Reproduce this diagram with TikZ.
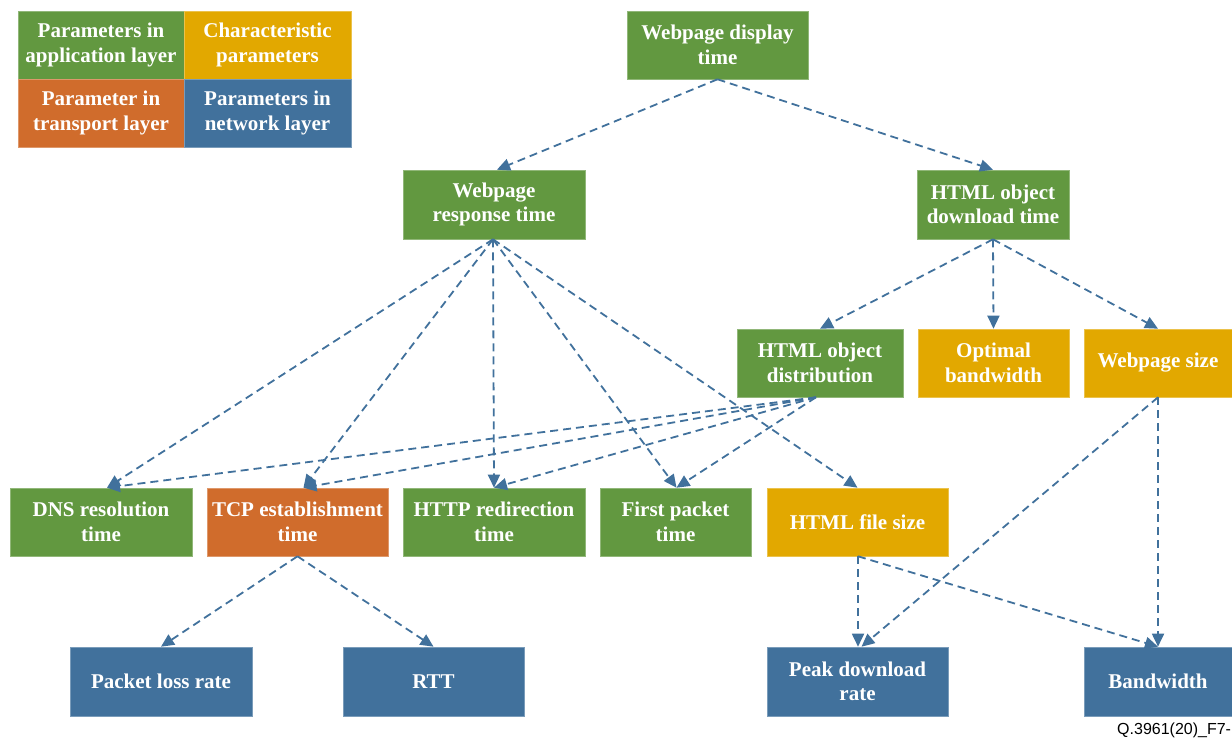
\documentclass[tikz,border=0pt]{standalone}
\usepackage{fontspec}
\setmainfont{Liberation Serif}
\newfontfamily\footfont{Liberation Sans}
\usetikzlibrary{arrows.meta}
\definecolor{appgreen}{RGB}{98,152,64}
\definecolor{chargold}{RGB}{226,168,0}
\definecolor{transorange}{RGB}{208,108,44}
\definecolor{netblue}{RGB}{65,113,156}
\tikzset{
  box/.style={fill=#1, draw=#1!70!white, line width=0.6pt, text=white, inner sep=0pt,
    align=center, font=\fontsize{21}{24.5}\selectfont\bfseries},
  link/.style={draw=netblue, line width=1.8pt, dash pattern=on 8pt off 5pt,
    -{Triangle[length=13pt,width=12pt]}},
}
\begin{document}
\begin{tikzpicture}[x=1pt,y=-1pt]
\useasboundingbox (0,0) rectangle (1232,738);
% legend
\node[box=appgreen, minimum width=166pt, minimum height=68pt] (l1) at (101,45) {Parameters in\\application layer};
\node[box=chargold, minimum width=167pt, minimum height=68pt] (l2) at (267.5,45) {Characteristic\\parameters};
\node[box=transorange, minimum width=166pt, minimum height=68pt] (l3) at (101,113) {Parameter in\\transport layer};
\node[box=netblue, minimum width=167pt, minimum height=68pt] (l4) at (267.5,113) {Parameters in\\network layer};
% nodes
\node[box=appgreen, minimum width=181pt, minimum height=68pt] (disp) at (717.5,45) {Webpage display\\time};
\node[box=appgreen, minimum width=182pt, minimum height=69pt] (resp) at (494,204.5) {Webpage\\response time};
\node[box=appgreen, minimum width=152pt, minimum height=69pt] (down) at (993,204.5) {HTML object\\download time};
\node[box=appgreen, minimum width=166pt, minimum height=68pt] (dist) at (820,363) {HTML object\\distribution};
\node[box=chargold, minimum width=151pt, minimum height=68pt] (opt) at (993.5,363) {Optimal\\bandwidth};
\node[box=chargold, minimum width=148pt, minimum height=68pt] (wsize) at (1158,363) {Webpage size};
\node[box=appgreen, minimum width=182pt, minimum height=68pt] (dns) at (101,522) {DNS resolution\\time};
\node[box=transorange, minimum width=181pt, minimum height=68pt] (tcp) at (297.5,522) {TCP establishment\\time};
\node[box=appgreen, minimum width=182pt, minimum height=68pt] (http) at (494,522) {HTTP redirection\\time};
\node[box=appgreen, minimum width=151pt, minimum height=68pt] (fpt) at (675.5,522) {First packet\\time};
\node[box=chargold, minimum width=181pt, minimum height=68pt] (hfs) at (857.5,522) {HTML file size};
\node[box=netblue, minimum width=182pt, minimum height=69pt] (plr) at (161,681.5) {Packet loss rate};
\node[box=netblue, minimum width=181pt, minimum height=69pt] (rtt) at (433.5,681.5) {RTT};
\node[box=netblue, minimum width=181pt, minimum height=69pt] (peak) at (857.5,681.5) {Peak download\\rate};
\node[box=netblue, minimum width=148pt, minimum height=69pt] (bw) at (1158,681.5) {Bandwidth};
% footer
\node[anchor=base west, inner sep=0pt, font=\footfont\fontsize{16}{18}\selectfont] (foot) at (1117,734) {Q.3961(20)\_F7-};
% links
\draw[link] (disp.south) -- ([xshift=3pt]resp.north);
\draw[link] (disp.south) -- (down.north);
\draw[link] ([xshift=-1pt]resp.south) -- ([xshift=6pt]dns.north);
\draw[link] ([xshift=-1pt]resp.south) -- ([xshift=6pt]tcp.north);
\draw[link] ([xshift=-1pt]resp.south) -- (http.north);
\draw[link] ([xshift=-1pt]resp.south) -- ([xshift=1pt]fpt.north);
\draw[link] ([xshift=-1pt]resp.south) -- (hfs.north);
\draw[link] (down.south) -- (dist.north);
\draw[link] (down.south) -- (opt.north);
\draw[link] (down.south) -- (wsize.north);
\draw[link] ([xshift=-4pt]dist.south) -- ([xshift=6pt]dns.north);
\draw[link] ([xshift=-4pt]dist.south) -- ([xshift=6pt]tcp.north);
\draw[link] ([xshift=-4pt]dist.south) -- (http.north);
\draw[link] ([xshift=-4pt]dist.south) -- ([xshift=1pt]fpt.north);
\draw[link] (tcp.south) -- (plr.north);
\draw[link] (tcp.south) -- (rtt.north);
\draw[link] ([xshift=0.5pt]hfs.south) -- ([xshift=0.5pt]peak.north);
\draw[link] ([xshift=0.5pt]hfs.south) -- (bw.north);
\draw[link] (wsize.south) -- ([xshift=4pt]peak.north);
\draw[link] (wsize.south) -- (bw.north);
\end{tikzpicture}
\end{document}
